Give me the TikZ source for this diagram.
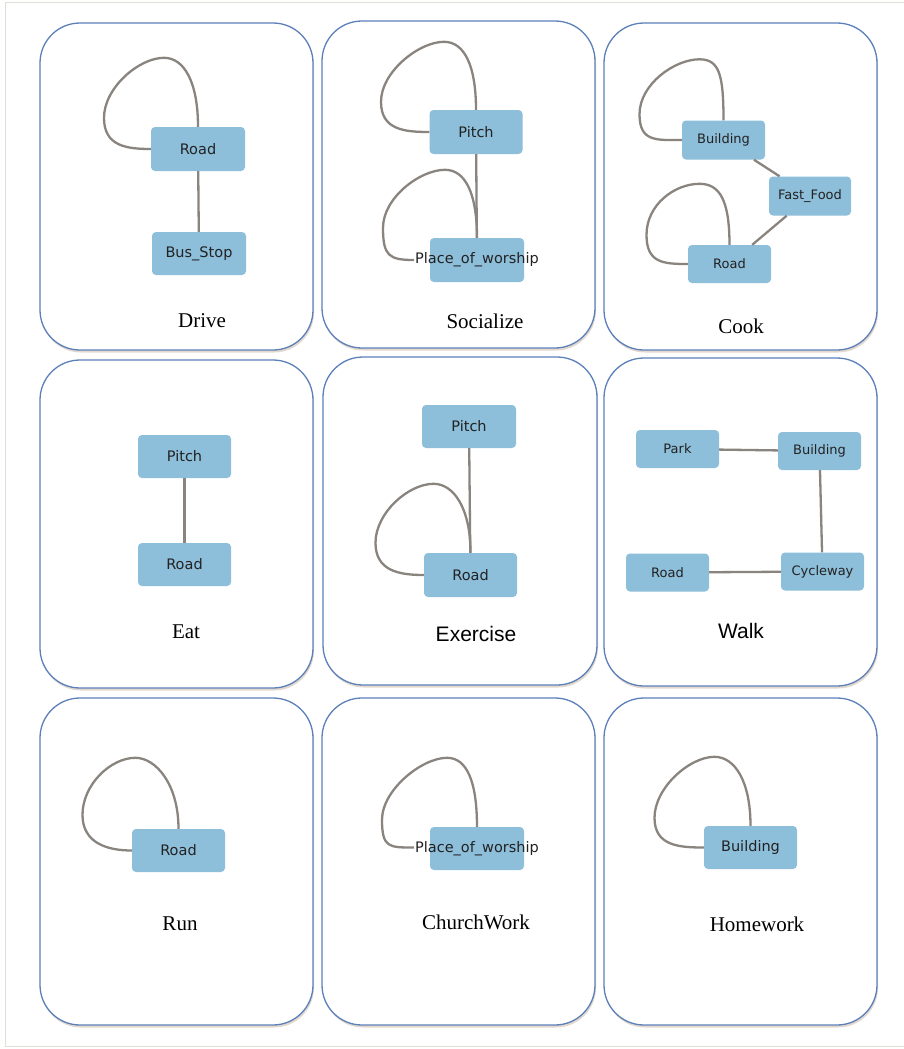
\documentclass[tikz,border=0pt]{standalone}
\usepackage{fontspec}
\usetikzlibrary{calc,shadows}
\newfontfamily\nfont{DejaVu Sans}
\newfontfamily\serffont{Liberation Serif}
\newfontfamily\sanslab{Liberation Sans}
\definecolor{nodeblue}{RGB}{141,190,218}
\definecolor{edgegray}{RGB}{138,132,127}
\definecolor{panelblue}{RGB}{92,128,186}
\definecolor{framegray}{RGB}{225,221,215}
\definecolor{textdark}{RGB}{34,34,34}
\tikzset{
  panel/.style={draw=panelblue, line width=1.3pt, rounded corners=40pt, fill=white,
    drop shadow={shadow xshift=1pt, shadow yshift=-2.5pt, opacity=0.3, fill=brown!50!gray}},
  bignode/.style={fill=nodeblue, rounded corners=4pt, minimum width=94pt, minimum height=44pt,
    inner sep=0pt, text=textdark, font=\nfont\fontsize{14.5}{17}\selectfont},
  smallnode/.style={bignode, minimum width=83pt, minimum height=39pt,
    font=\nfont\fontsize{13}{15}\selectfont},
  edge/.style={draw=edgegray, line width=2.3pt},
  serlabel/.style={anchor=base, inner sep=0pt, font=\serffont\fontsize{21}{25}\selectfont},
  sanlabel/.style={anchor=base, inner sep=0pt, font=\sanslab\fontsize{21}{25}\selectfont},
}
\newcommand{\selfloop}[4]{\draw[edge] (#1.north) .. controls +(0,-45) and +(20,0) .. ++(#2) .. controls +(-25,0) and +(0,-30) .. ++(#3) .. controls +(0,28) and +(-25,0) .. (#4);}
\begin{document}
\begin{tikzpicture}[x=1pt, y=-1pt]
\useasboundingbox (0,0) rectangle (904,1049);
\fill[white] (0,0) rectangle (904,1049);
\draw[framegray, line width=1pt] (910,3) -- (5,3) -- (5,1046) -- (910,1046);

% panels
\draw[panel] (40,23) rectangle (313,350);
\draw[panel] (322,21) rectangle (595,348);
\draw[panel] (604,23) rectangle (877,350);
\draw[panel] (40,360) rectangle (313,688);
\draw[panel] (323,357) rectangle (597,685);
\draw[panel] (604,358) rectangle (877,686);
\draw[panel] (40,698) rectangle (313,1025);
\draw[panel] (322,698) rectangle (595,1025);
\draw[panel] (604,698) rectangle (877,1025);

% Drive
\node[bignode] (dRoad) at (198,149) {Road};
\node[bignode, minimum height=43pt] (dBus) at (199,253.5) {Bus\_Stop};
\draw[edge] (dRoad) -- (dBus);
\selfloop{dRoad}{-34,-69}{-60,60}{dRoad.west}
\node[serlabel] (lDrive) at (202,327) {Drive};

% Socialize
\node[bignode, minimum width=93pt] (sPitch) at (476,132) {Pitch};
\node[bignode] (sPow) at (477,260) {\makebox[0pt]{Place\_of\_worship}};
\coordinate (sPowEnd) at ($(sPow.center)+(-63,0)$);
\draw[edge] (sPitch) -- (sPow);
\selfloop{sPitch}{-32,-68}{-63,60}{sPitch.west}
\selfloop{sPow}{-32,-68}{-62,58}{sPowEnd}
\node[serlabel] (lSoc) at (485,328) {Socialize};

% Cook
\node[smallnode] (cBuild) at (723.5,140) {Building};
\node[smallnode, minimum width=82pt] (cFast) at (810,196) {Fast\_Food};
\node[smallnode, minimum height=38pt] (cRoad) at (729.5,264) {Road};
\draw[edge] (cBuild) -- (cFast);
\draw[edge] (cFast) -- (cRoad);
\selfloop{cBuild}{-24,-61}{-60,55}{cBuild.west}
\selfloop{cRoad}{-30,-61}{-53,51}{cRoad.west}
\node[serlabel] (lCook) at (741,333) {Cook};

% Eat
\node[bignode, minimum width=93pt, minimum height=43pt] (ePitch) at (184.5,456.5) {Pitch};
\node[bignode, minimum width=93pt, minimum height=43pt] (eRoad) at (184.5,564.5) {Road};
\draw[edge] (ePitch) -- (eRoad);
\node[serlabel] (lEat) at (186,638) {Eat};

% Exercise
\node[bignode, minimum height=43pt] (xPitch) at (469,426.5) {Pitch};
\node[bignode, minimum width=93pt] (xRoad) at (470.5,575) {Road};
\draw[edge] (xPitch) -- (xRoad);
\selfloop{xRoad}{-37,-69}{-58,59}{xRoad.west}
\node[sanlabel] (lEx) at (476,641) {Exercise};

% Walk
\node[smallnode, minimum height=38pt] (wPark) at (677.5,449) {Park};
\node[smallnode, minimum height=38pt] (wBuild) at (819.5,451) {Building};
\node[smallnode, minimum height=38pt] (wRoad) at (667.5,572.5) {Road};
\node[smallnode, minimum height=38pt] (wCyc) at (822.5,571.5) {Cycleway};
\draw[edge] (wPark) -- (wBuild);
\draw[edge] (wBuild) -- (wCyc);
\draw[edge] (wRoad) -- (wCyc);
\node[sanlabel] (lWalk) at (741,638) {Walk};

% Run
\node[bignode, minimum width=93pt, minimum height=43pt] (rRoad) at (178.5,850.5) {Road};
\selfloop{rRoad}{-43,-71}{-53,57}{rRoad.west}
\node[serlabel] (lRun) at (180,930) {Run};

% ChurchWork
\node[bignode, minimum height=43pt] (chPow) at (477,848.5) {\makebox[0pt]{Place\_of\_worship}};
\coordinate (chPowEnd) at ($(chPow.center)+(-63,-1)$);
\selfloop{chPow}{-30,-69}{-65,62}{chPowEnd}
\node[serlabel] (lChurch) at (476,929) {ChurchWork};

% Homework
\node[bignode, minimum width=93pt, minimum height=43pt] (hBuild) at (750.5,847.5) {Building};
\selfloop{hBuild}{-36,-69}{-60,61}{hBuild.west}
\node[serlabel] (lHome) at (757,931) {Homework};
\end{tikzpicture}
\end{document}
